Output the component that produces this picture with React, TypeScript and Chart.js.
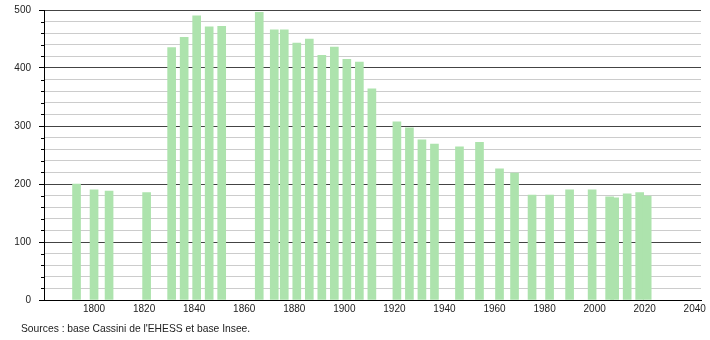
import React, { useEffect, useRef } from "react";
import { Chart, registerables } from "chart.js";

Chart.register(...registerables);

const years = [
  1793, 1800, 1806, 1821, 1831, 1836, 1841, 1846, 1851, 1866, 1872, 1876,
  1881, 1886, 1891, 1896, 1901, 1906, 1911, 1921, 1926, 1931, 1936, 1946,
  1954, 1962, 1968, 1975, 1982, 1990, 1999, 2006, 2008, 2013, 2018, 2021,
];
const population = [
  200, 190, 188, 185, 435, 453, 490, 471, 472, 496, 466, 466,
  443, 450, 422, 436, 415, 410, 364, 307, 297, 276, 269, 264,
  272, 226, 219, 181, 181, 190, 190, 178, 176, 183, 185, 179,
];
const xTickValues = [1800, 1820, 1840, 1860, 1880, 1900, 1920, 1940, 1960, 1980, 2000, 2020, 2040];
const sourceText = "Sources : base Cassini de l'EHESS et base Insee.";

const FONT = "'Liberation Sans', Arial, Helvetica, sans-serif";

export default function App() {
  const canvasRef = useRef<HTMLCanvasElement | null>(null);

  useEffect(() => {
    if (!canvasRef.current) return;
    const minorTicks = {
      id: "minorTicks",
      afterDraw(chart: any) {
        const y = chart.scales.y;
        const ctx = chart.ctx;
        const left = chart.chartArea.left;
        ctx.save();
        ctx.strokeStyle = "#000";
        ctx.lineWidth = 1;
        for (let v = 0; v <= 500; v += 20) {
          if (v % 100 === 0) continue;
          const py = Math.round(y.getPixelForValue(v)) + 0.5;
          ctx.beginPath();
          ctx.moveTo(left - 3, py);
          ctx.lineTo(left, py);
          ctx.stroke();
        }
        ctx.restore();
      },
    };
    const chart = new Chart(canvasRef.current, {
      type: "bar",
      data: {
        datasets: [
          {
            data: years.map((x, i) => ({ x, y: population[i] })),
            backgroundColor: "#ade3ad",
            borderWidth: 0,
            barThickness: 8,
          },
        ],
      },
      options: {
        animation: false,
        responsive: true,
        maintainAspectRatio: false,
        layout: { padding: { top: 10, right: 9, bottom: 0, left: 0 } },
        plugins: {
          legend: { display: false },
          tooltip: { enabled: false },
        },
        scales: {
          x: {
            type: "linear",
            offset: false,
            min: 1780,
            max: 2042.5,
            afterBuildTicks: (scale: any) => {
              scale.ticks = xTickValues.map((v) => ({ value: v }));
            },
            afterFit: (scale: any) => {
              scale.height = 40;
            },
            grid: { display: true, color: "rgba(0,0,0,0)", drawTicks: false },
            border: { display: true, color: "#000", width: 1 },
            ticks: {
              padding: 3,
              maxRotation: 0,
              autoSkip: false,
              color: "#222",
              font: { family: FONT, size: 10 },
              callback: (v: any) => String(v),
            },
          },
          y: {
            min: 0,
            max: 500,
            afterFit: (scale: any) => {
              scale.width = 44;
              scale.paddingTop = 0;
              scale.paddingBottom = 0;
            },
            grid: {
              color: (ctx: any) => (ctx.tick && ctx.tick.value % 100 === 0 ? "#444" : "#cccccc"),
              tickColor: (ctx: any) => (ctx.tick && ctx.tick.value % 100 === 0 ? "#000" : "rgba(0,0,0,0)"),
              tickLength: 5,
              lineWidth: 1,
            },
            border: { display: true, color: "#000", width: 1 },
            ticks: {
              stepSize: 20,
              padding: 8,
              autoSkip: false,
              color: "#222",
              font: { family: FONT, size: 10 },
              callback: (v: any) => (Number(v) % 100 === 0 ? String(v) : ""),
            },
          },
        },
      },
      plugins: [minorTicks],
    });
    return () => chart.destroy();
  }, []);

  return (
    <div style={{ position: "absolute", left: 0, top: 0, width: 710, height: 340, background: "#fff" }}>
      <canvas ref={canvasRef} />
      <div
        style={{
          position: "absolute",
          left: 21,
          top: 323,
          fontFamily: FONT,
          fontSize: 10.3,
          lineHeight: "12px",
          color: "#222",
          whiteSpace: "nowrap",
        }}
      >
        {sourceText}
      </div>
    </div>
  );
}
